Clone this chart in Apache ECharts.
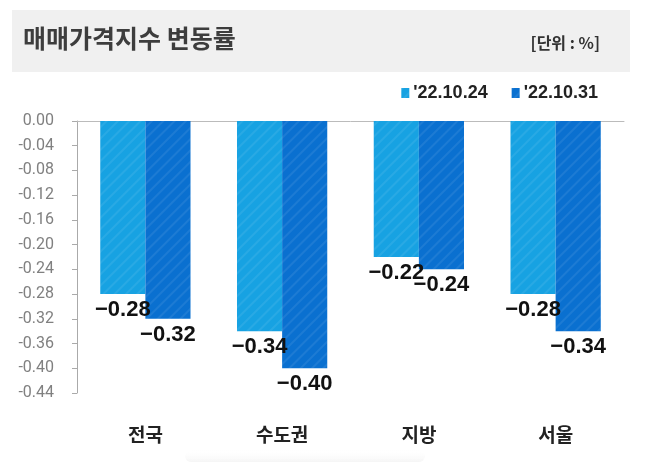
<!DOCTYPE html>
<html><head><meta charset="utf-8">
<script src="https://cdn.jsdelivr.net/npm/echarts@6/dist/echarts.min.js"></script>
<style>html,body{margin:0;padding:0;background:#fff}#c{width:647px;height:465px}</style>
</head><body><div id="c"></div>
<script>
const categories = ['전국', '수도권', '지방', '서울'];
const seriesNames = ["'22.10.24", "'22.10.31"];
const week1 = [-0.28, -0.34, -0.22, -0.28];
const week2 = [-0.32, -0.40, -0.24, -0.34];
const titleText = '매매가격지수 변동률';
const unitText = '[단위 : %]';

const chart = echarts.init(document.getElementById('c'), null, {renderer: 'canvas'});
const labelFont = '"Liberation Sans", Arial, sans-serif';
const decal = {symbol: 'rect', symbolSize: 1, dashArrayX: [1, 0], dashArrayY: [2, 6], rotation: -Math.PI / 4, color: 'rgba(255,255,255,0.08)'};
function mkLabel() {
  return {show: true, position: 'bottom', distance: 5, color: '#111', fontFamily: labelFont, fontWeight: 'bold', fontSize: 22,
    formatter: p => p.value.toFixed(2).replace('-', '−')};
}
chart.setOption({
  animation: false,
  graphic: [
    {type: 'rect', left: 12, top: 10, shape: {width: 618, height: 62}, style: {fill: '#f0f0f0'}, z: -1},
    {type: 'text', left: 23, top: 26, style: {text: titleText, font: 'bold 25px "Noto Sans CJK KR"', fill: '#3d3d3d'}},
    {type: 'text', right: 47, top: 35, style: {text: unitText, font: 'bold 16px "Noto Sans CJK KR"', fill: '#333'}},
    {type: 'rect', left: 185, top: 450, shape: {width: 240, height: 12, r: 6},
      style: {fill: new echarts.graphic.LinearGradient(0, 0, 0, 1, [{offset: 0, color: 'rgba(255,255,255,0)'}, {offset: 1, color: 'rgba(215,215,215,0.25)'}])}, z: -1}
  ],
  legend: {top: 79, right: 44, itemWidth: 8, itemHeight: 10, itemGap: 24, icon: 'rect',
    textStyle: {fontFamily: labelFont, fontWeight: 'bold', fontSize: 18, color: '#222', padding: [0, 0, 0, -1]},
    data: seriesNames},
  grid: {left: 77, right: 23, top: 121, bottom: 72, containLabel: false},
  xAxis: [
    {type: 'category', data: categories, position: 'bottom', axisLine: {show: false, onZero: false}, axisTick: {show: false},
      axisLabel: {margin: 32, color: '#222', fontSize: 19, fontWeight: 'bold', fontFamily: 'Noto Sans CJK KR'}},
    {type: 'category', data: categories, position: 'top', axisLine: {show: true, onZero: false, lineStyle: {color: '#bbb', width: 1}},
      axisTick: {show: false}, axisLabel: {show: false}}
  ],
  yAxis: {type: 'value', min: -0.44, max: 0, interval: 0.04,
    axisLine: {show: true, lineStyle: {color: '#aaa'}}, axisTick: {show: true, length: 5, lineStyle: {color: '#aaa'}},
    splitLine: {show: false},
    axisLabel: {margin: 23, color: '#808080', fontSize: 16, fontFamily: 'Roboto, sans-serif',
      formatter: v => (Math.abs(v) < 1e-9 ? 0 : v).toFixed(2)}},
  series: [
    {name: seriesNames[0], type: 'bar', data: week1, barWidth: '33%', barGap: '0%',
      itemStyle: {color: '#17a2e2', decal: decal}, label: mkLabel()},
    {name: seriesNames[1], type: 'bar', data: week2, barWidth: '33%', barGap: '0%',
      itemStyle: {color: '#0a70d0', decal: decal}, label: mkLabel()}
  ]
});
</script></body></html>
